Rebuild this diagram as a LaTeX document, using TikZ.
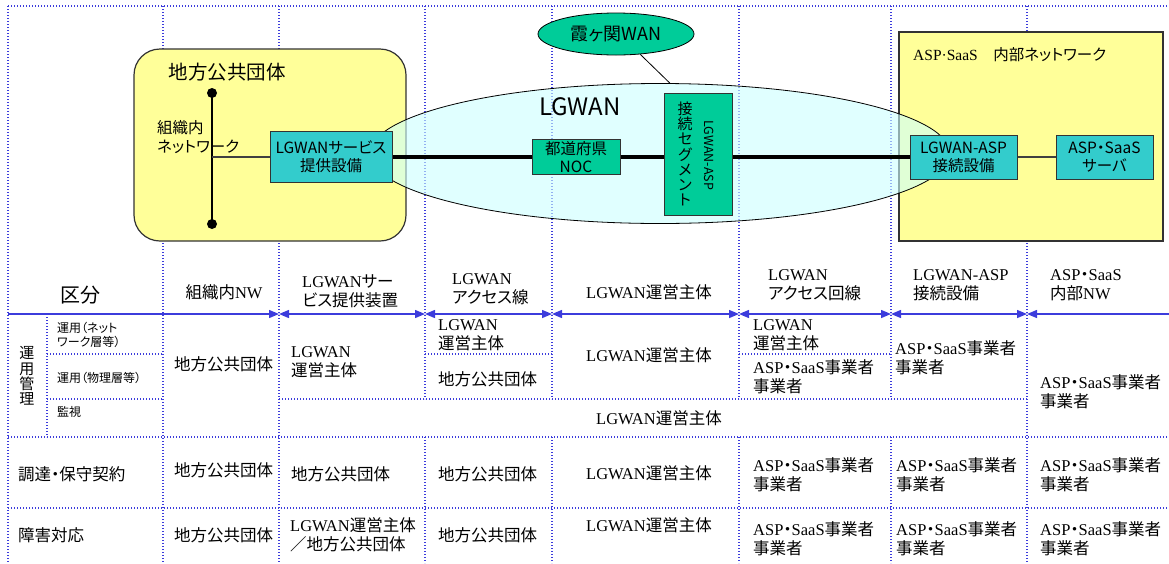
\documentclass[tikz,border=0pt]{standalone}
\usepackage{fontspec}
\setmainfont[RawFeature=+palt]{Noto Sans CJK JP}
\newfontfamily\enserif{Liberation Serif}
\newcommand{\en}[1]{{\enserif #1}}
\newcommand{\fsz}[2]{\fontsize{#1}{#2}\selectfont}
\usetikzlibrary{shapes.geometric,arrows.meta}
\definecolor{gridblue}{RGB}{60,60,220}
\definecolor{lgyellow}{RGB}{255,255,153}
\definecolor{lgcyan}{RGB}{204,255,255}
\definecolor{boxteal}{RGB}{51,204,204}
\definecolor{boxgreen}{RGB}{0,204,153}
\begin{document}
\begin{tikzpicture}[x=1pt,y=-1pt,
  grid/.style={gridblue,line width=1.4pt,dash pattern=on 1.4pt off 1.6pt},
  hdr/.style={gridblue,line width=1.4pt},
  >={Triangle[length=10pt,width=8pt]},
  cell/.style={anchor=west,align=left,inner sep=0pt,font=\fsz{16.5}{19}},
  ccell/.style={cell,anchor=center,align=center},
  small/.style={cell,font=\fsz{12}{14.5}},
  box/.style={draw=black!80,line width=1pt,inner sep=0pt,align=center,font=\fsz{15.5}{18}},
  area/.style={draw=black!80,line width=1.2pt,fill=lgyellow,inner sep=0pt}
  ]
    \useasboundingbox (0,0) rectangle (1169,563);

    % table grid
    \draw[grid] (8,6) -- (1169,6);
    \foreach \x in {8,163,279,1027}
        \draw[grid] (\x,6) -- (\x,563);
    \foreach \x in {425,552,739,891} {
        \draw[grid] (\x,6) -- (\x,399);
        \draw[grid] (\x,437) -- (\x,563);
    }
    \draw[grid] (47,314) -- (47,437);
    \draw[grid] (47,354) -- (163,354);
    \draw[grid] (425,354) -- (552,354);
    \draw[grid] (739,354) -- (891,354);
    \draw[grid] (47,399) -- (163,399);
    \draw[grid] (279,399) -- (1027,399);
    \draw[grid] (8,437) -- (1169,437);
    \draw[grid] (8,508) -- (1169,508);

    % header arrows
    \foreach \n/\x in {0/8,1/279,2/425,3/552,4/739,5/891,6/1027,7/1169}
        \coordinate (h\n) at (\x,314);
    \draw[hdr,->] (h0) -- (h1);
    \foreach \a/\b in {h1/h2,h2/h3,h3/h4,h4/h5,h5/h6}
        \draw[hdr,<->] (\a) -- (\b);
    \draw[hdr,<-] (h6) -- (h7);

    % network diagram
    \node[area,rounded corners=26pt,minimum width=272pt,minimum height=192pt] (lgbox) at (270,145) {};
    \node[area,minimum width=264pt,minimum height=209pt] (aspnet) at (1031,136.5) {};
    \node[ellipse,draw,line width=0.8pt,fill=lgcyan,fill opacity=0.6,minimum width=580pt,minimum height=140pt,inner sep=0pt] (wan) at (660,153.5) {};
    \node[ellipse,draw,line width=0.8pt,fill=boxgreen,minimum width=156pt,minimum height=42pt,inner sep=0pt,font=\fsz{18}{18}] (kasu) at (616,34) {霞ヶ関WAN};
    \draw[line width=0.8pt] (kasu.-40) -- (wan.82);

    \node[font=\fsz{19.5}{20}] (lgtitle) at (227,72) {地方公共団体};
    \node[font=\fsz{24}{24}] (wanlbl) at (580,107) {LGWAN};
    \node[cell,font=\fsz{15.5}{18}] (asptitle) at (913,55) {\en{ASP·SaaS}　内部ネットワーク};

    \node[box,fill=boxteal,minimum width=122pt,minimum height=51pt] (svc) at (331,157) {LGWANサービス\\提供設備};
    \node[box,fill=boxgreen,minimum width=88pt,minimum height=35pt] (noc) at (576,157) {都道府県\\NOC};
    \node[box,fill=boxgreen,minimum width=68pt,minimum height=122pt] (seg) at (698,154) {};
    \node[inner sep=0pt,align=center,font=\fsz{15}{15.3}] (segv) at (685,154) {接\\続\\セ\\グ\\メ\\ン\\ト};
    \node[inner sep=0pt,rotate=-90,font=\fsz{12.5}{13}] (segr) at (709,155) {LGWAN-ASP};
    \node[box,fill=boxteal,minimum width=107pt,minimum height=44pt] (aspgw) at (963.5,157) {LGWAN-ASP\\接続設備};
    \node[box,fill=boxteal,minimum width=97pt,minimum height=44pt] (srv) at (1104.5,157) {ASP・SaaS\\サーバ};

    \coordinate (ntop) at (212,93);
    \coordinate (nbot) at (212,224);
    \draw[line width=2pt] (ntop) -- (nbot);
    \fill (ntop) circle (5pt);
    \fill (nbot) circle (5pt);
    \draw[line width=1.5pt,black!75] (svc.west) -- (svc.west -| ntop);
    \node[cell,font=\fsz{15.5}{19}] (orgnet) at (157,137) {組織内\\ネットワーク};

    \draw[line width=4pt] (svc.east) -- (noc.west);
    \draw[line width=4pt] (noc.east) -- (noc.east -| seg.west);
    \draw[line width=4pt] (seg.east |- aspgw.west) -- (aspgw.west);
    \draw[line width=1.2pt,black!75] (aspgw) -- (srv);

    % header row
    \node[ccell,font=\fsz{20}{20}] (kubun) at (80,295) {区分};
    \node[ccell] (c1) at (224,292) {組織内\en{NW}};
    \node[cell] (c2) at (302,291) {\en{LGWAN}サー\\ビス提供装置};
    \node[cell] (c3) at (452,289) {\en{LGWAN}\\アクセス線};
    \node[ccell] (c4) at (649,292) {\en{LGWAN}運営主体};
    \node[cell] (c5) at (768,285) {\en{LGWAN}\\アクセス回線};
    \node[cell] (c6) at (913,285) {\en{LGWAN-ASP}\\接続設備};
    \node[cell] (c7) at (1050,285) {\en{ASP}・\en{SaaS}\\内部\en{NW}};

    % operation rows
    \node[ccell,font=\fsz{15}{15.3}] (unyo) at (27,376) {運\\用\\管\\理};
    \node[small] (s1) at (57,335) {運用（ネット\\ワーク層等）};
    \node[small] (s2) at (57,378) {運用（物理層等）};
    \node[small] (s3) at (57,412) {監視};
    \node[cell] (u1) at (174,364) {地方公共団体};
    \node[cell] (u2) at (291,362) {\en{LGWAN}\\運営主体};
    \node[cell] (u3a) at (438,335) {\en{LGWAN}\\運営主体};
    \node[cell] (u3b) at (438,379) {地方公共団体};
    \node[ccell] (u4) at (649,355) {\en{LGWAN}運営主体};
    \node[cell] (u5a) at (753,335) {\en{LGWAN}\\運営主体};
    \node[cell] (u5b) at (753,377) {\en{ASP}・\en{SaaS}事業者\\事業者};
    \node[cell] (u6) at (895,358) {\en{ASP}・\en{SaaS}事業者\\事業者};
    \node[cell] (u7) at (1040,392) {\en{ASP}・\en{SaaS}事業者\\事業者};
    \node[ccell] (kanshi) at (659,418) {\en{LGWAN}運営主体};

    % procurement row
    \node[cell] (p0) at (18,474) {調達・保守契約};
    \node[cell] (p1) at (174,470) {地方公共団体};
    \node[cell] (p2) at (291,474) {地方公共団体};
    \node[cell] (p3) at (438,474) {地方公共団体};
    \node[ccell] (p4) at (649,473) {\en{LGWAN}運営主体};
    \node[cell] (p5) at (753,475) {\en{ASP}・\en{SaaS}事業者\\事業者};
    \node[cell] (p6) at (896,475) {\en{ASP}・\en{SaaS}事業者\\事業者};
    \node[cell] (p7) at (1040,475) {\en{ASP}・\en{SaaS}事業者\\事業者};

    % fault row
    \node[cell] (f0) at (18,535) {障害対応};
    \node[cell] (f1) at (174,535) {地方公共団体};
    \node[cell] (f2) at (290,535) {\en{LGWAN}運営主体\\／地方公共団体};
    \node[cell] (f3) at (438,535) {地方公共団体};
    \node[ccell] (f4) at (649,525) {\en{LGWAN}運営主体};
    \node[cell] (f5) at (753,539) {\en{ASP}・\en{SaaS}事業者\\事業者};
    \node[cell] (f6) at (896,539) {\en{ASP}・\en{SaaS}事業者\\事業者};
    \node[cell] (f7) at (1040,539) {\en{ASP}・\en{SaaS}事業者\\事業者};
\end{tikzpicture}
\end{document}
